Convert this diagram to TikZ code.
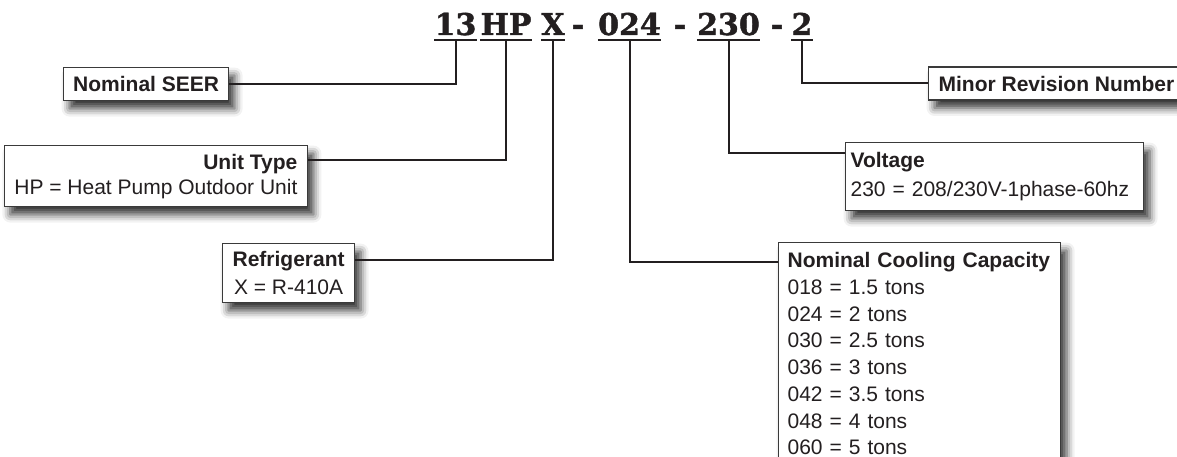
\documentclass[tikz,border=0pt]{standalone}
\usepackage{fontspec}
\setmainfont{Liberation Sans}
\newfontfamily\codefont[FakeBold=1.3]{DejaVu Serif Bold}
\usetikzlibrary{shadows.blur}
\definecolor{ink}{HTML}{231F20}
\definecolor{rim}{HTML}{3A3A3A}

\begin{document}
\begin{tikzpicture}[x=1pt,y=-1pt,
  seg/.style={anchor=base,inner sep=0pt,text=ink,font=\codefont\fontsize{30}{30}\selectfont},
  keybox/.style={draw=rim,line width=1.2pt,fill=white,text=ink,
    blur shadow={shadow xshift=6pt,shadow yshift=-8pt,shadow blur radius=8pt,shadow opacity=80},
    font=\fontsize{21}{26}\selectfont},
  lead/.style={draw=ink,line width=2pt}]
  \useasboundingbox (0,0) rectangle (1177,457);
  % model number, one underlined segment per field
  \foreach \n/\x in {13/455.5,HP/506,X/553,024/629.5,230/728.5,2/802} {
    \node[seg] (s\n) at (\x,35) {\n};
    \draw[lead] ([yshift=-5pt]s\n.base west) -- ([yshift=-5pt]s\n.base east);
    \coordinate (t\n) at ([yshift=-5pt]s\n.base);
  }
  \foreach \x/\n in {578/1,680/2,777/3} \node[seg] (d\n) at (\x,35) {-};
  % key boxes
  \node[keybox,anchor=north west,minimum width=165pt,minimum height=33pt] (seer) at (63,67) {\textbf{Nominal SEER}};
  \node[keybox,anchor=north east,align=right,inner xsep=10pt,minimum height=61pt,font=\fontsize{21}{25}\selectfont] (unit) at (308,145)
    {\textbf{Unit Type}\\HP = Heat Pump Outdoor Unit};
  \node[keybox,anchor=north west,align=center,minimum width=132pt,minimum height=59pt,font=\fontsize{21}{28}\selectfont] (refr) at (222,243)
    {\textbf{Refrigerant}\\X = R-410A};
  \node[keybox,anchor=north west,text width=264pt,inner xsep=9pt,inner ysep=10pt,align=left,font=\fontsize{21}{26.7}\selectfont] (cap) at (778,242)
    {\textbf{Nominal Cooling Capacity}\\018 = 1.5 tons\\024 = 2 tons\\030 = 2.5 tons\\036 = 3 tons\\042 = 3.5 tons\\048 = 4 tons\\060 = 5 tons};
  \node[keybox,anchor=north west,text width=288pt,inner xsep=5pt,minimum height=68pt,align=left,font=\fontsize{21}{29}\selectfont] (volt) at (845,142)
    {\textbf{Voltage}\\230 = 208/230V-1phase-60hz};
  \node[keybox,anchor=west,minimum height=33pt,inner xsep=10pt] (minor) at (928,83.5) {\textbf{Minor Revision Number}};
  % leaders
  \draw[lead] (seer.east) -| (t13);
  \draw[lead] ([yshift=-15pt]unit.north east) -| (tHP);
  \draw[lead] ([yshift=-17pt]refr.north east) -| (tX);
  \draw[lead] ([yshift=-20pt]cap.north west) -| (t024);
  \draw[lead] ([yshift=-11pt]volt.north west) -| (t230);
  \draw[lead] (minor.west) -| (t2);
\end{tikzpicture}
\end{document}
